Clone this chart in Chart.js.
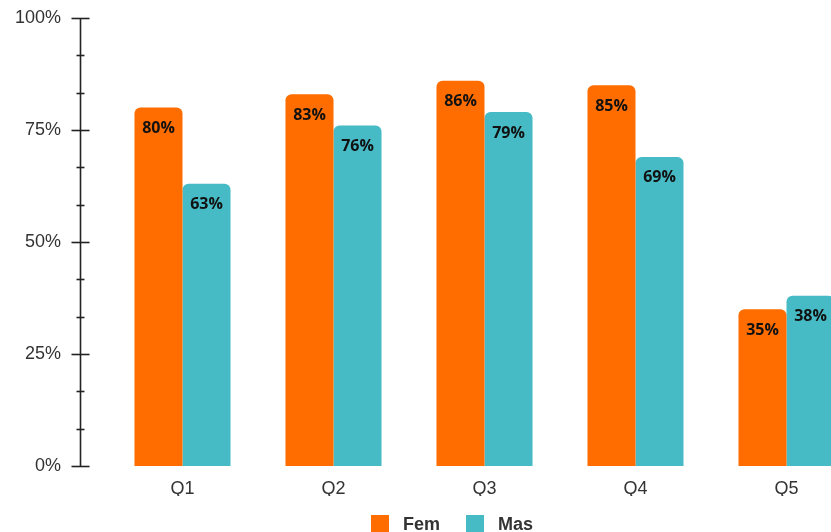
<!DOCTYPE html>
<html>
<head>
<meta charset="utf-8">
<script src="https://cdn.jsdelivr.net/npm/chart.js"></script>
<style>
  html, body { margin: 0; padding: 0; background: #fff; overflow: hidden; }
  #wrap { width: 904px; height: 532px; }
</style>
</head>
<body>
<div id="wrap"><canvas id="chart" width="904" height="532"></canvas></div>
<script>
// survey answers per question, split by group
const questions = ['Q1', 'Q2', 'Q3', 'Q4', 'Q5'];
const femValues = [80, 83, 86, 85, 35];
const masValues = [63, 76, 79, 69, 38];
const yTicks = [0, 25, 50, 75, 100];

const ORANGE = '#FF6D00';
const TEAL = '#46BBC5';
const AXIS_FONT = '"Liberation Sans", Arial, sans-serif';

// y axis line with major and minor tick marks, drawn a little left of the bars
const axisPlugin = {
  id: 'axisLine',
  afterDraw(chart) {
    const ctx = chart.ctx;
    const y = chart.scales.y;
    const x = Math.round(chart.chartArea.left - 27) + 0.5;
    ctx.save();
    ctx.strokeStyle = '#222';
    ctx.lineWidth = 1.6;
    ctx.beginPath();
    ctx.moveTo(x, y.getPixelForValue(100));
    ctx.lineTo(x, y.getPixelForValue(0));
    ctx.stroke();
    for (let i = 0; i <= 12; i++) {
      const v = i * 25 / 3;
      const py = Math.round(y.getPixelForValue(v)) + 0.5;
      const half = i % 3 === 0 ? 9 : 4;
      ctx.beginPath();
      ctx.moveTo(x - half, py);
      ctx.lineTo(x + half, py);
      ctx.stroke();
    }
    ctx.restore();
  }
};

// percentage printed inside the top of each bar
const valueLabels = {
  id: 'valueLabels',
  afterDatasetsDraw(chart) {
    const ctx = chart.ctx;
    ctx.save();
    ctx.font = 'bold 16px "Open Sans", sans-serif';
    ctx.fillStyle = '#111';
    ctx.textAlign = 'center';
    ctx.textBaseline = 'middle';
    chart.data.datasets.forEach((ds, di) => {
      chart.getDatasetMeta(di).data.forEach((bar, i) => {
        ctx.fillText(ds.data[i] + '%', bar.x, bar.y + 21);
      });
    });
    ctx.restore();
  }
};

// legend row centred under the chart: square swatch + bold name
const bottomLegend = {
  id: 'bottomLegend',
  afterDraw(chart) {
    const ctx = chart.ctx;
    const box = 18, gap = 14, spacing = 26;
    const top = 515;
    ctx.save();
    ctx.font = 'bold 18px ' + AXIS_FONT;
    ctx.textBaseline = 'middle';
    ctx.textAlign = 'left';
    const items = chart.data.datasets.map(ds => ({
      text: ds.label,
      color: ds.backgroundColor,
      w: box + gap + ctx.measureText(ds.label).width
    }));
    const total = items.reduce((s, it) => s + it.w, 0) + spacing * (items.length - 1);
    let x = chart.width / 2 - total / 2;
    items.forEach(it => {
      ctx.fillStyle = it.color;
      ctx.fillRect(x, top, box, box);
      ctx.fillStyle = '#333';
      ctx.fillText(it.text, x + box + gap, top + box / 2 + 1);
      x += it.w + spacing;
    });
    ctx.restore();
  }
};

new Chart(document.getElementById('chart'), {
  type: 'bar',
  data: {
    labels: questions,
    datasets: [
      {
        label: 'Fem',
        data: femValues,
        backgroundColor: ORANGE,
        borderRadius: 6,
        borderSkipped: 'start',
        barPercentage: 1,
        categoryPercentage: 0.636
      },
      {
        label: 'Mas',
        data: masValues,
        backgroundColor: TEAL,
        borderRadius: 6,
        borderSkipped: 'start',
        barPercentage: 1,
        categoryPercentage: 0.636
      }
    ]
  },
  options: {
    responsive: false,
    animation: false,
    layout: { padding: { top: 18, right: 42, left: 0, bottom: 36 } },
    scales: {
      x: {
        afterFit(scale) { scale.height = 30; },
        grid: { display: false },
        border: { display: false },
        ticks: {
          color: '#333',
          padding: 4,
          font: { family: AXIS_FONT, size: 18 }
        }
      },
      y: {
        min: 0,
        max: 100,
        afterFit(scale) {
          scale.width = 107;
          scale.paddingTop = 0;
          scale.paddingBottom = 0;
        },
        afterBuildTicks(scale) { scale.ticks = yTicks.map(v => ({ value: v })); },
        grid: { display: false, drawTicks: false },
        border: { display: false },
        ticks: {
          color: '#333',
          padding: 46,
          font: { family: AXIS_FONT, size: 18 },
          callback: v => v + '%'
        }
      }
    },
    plugins: {
      tooltip: { enabled: false },
      legend: { display: false }
    }
  },
  plugins: [axisPlugin, valueLabels, bottomLegend]
});
</script>
</body>
</html>
